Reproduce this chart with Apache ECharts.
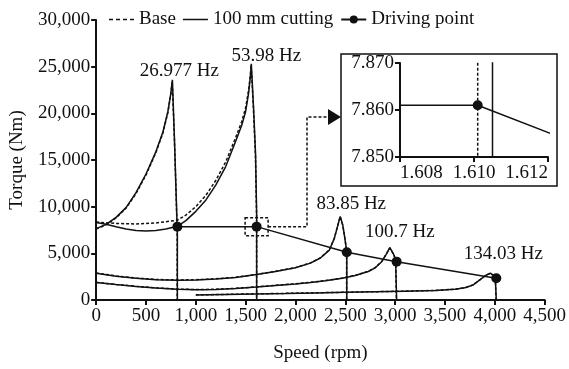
<!DOCTYPE html>
<html>
<head>
<meta charset="utf-8">
<script src="https://cdn.jsdelivr.net/npm/echarts@6/dist/echarts.min.js"></script>
<style>
html, body { margin: 0; padding: 0; background: #fff; }
#chart { width: 569px; height: 369px; }
</style>
</head>
<body>
<div id="chart"></div>
<script>
// [speed rpm, torque Nm]
const order1Base = [[0,7600],[100,8050],[200,8800],[300,9850],[400,11400],[500,13400],[600,15800],[670,17900],[720,20100],[750,22100],[763,23400],[785,17300],[805,10400],[813,7000],[813,0]];
const order1Cut = [[0,7650],[100,8100],[200,8850],[300,9900],[400,11500],[500,13500],[600,15900],[670,18000],[720,20200],[750,22200],[765,23600],[785,17500],[805,10500],[815,7000],[815,0]];
const order2Base = [[0,8350],[200,8200],[400,8150],[600,8250],[815,8550],[900,9100],[1000,10000],[1100,11200],[1200,12800],[1300,14800],[1400,17400],[1460,19100],[1500,20600],[1530,22500],[1547,24100],[1555,25200],[1578,20500],[1598,15500],[1610.1,9000],[1610.1,0]];
const order2Cut = [[0,8300],[100,8120],[200,7850],[300,7600],[400,7450],[500,7400],[600,7450],[700,7600],[815,7900],[900,8500],[1000,9500],[1100,10700],[1200,12300],[1300,14300],[1400,17000],[1460,18700],[1500,20200],[1530,22200],[1548,24000],[1557,25300],[1580,20500],[1600,15500],[1610.5,9000],[1610.5,0]];
const order3Base = [[0,2900],[200,2580],[400,2350],[600,2200],[815,2150],[1000,2170],[1200,2270],[1400,2440],[1610,2740],[1800,3070],[2000,3470],[2150,3970],[2250,4520],[2340,5380],[2390,6620],[2425,8020],[2448,8930],[2475,8000],[2490,7000],[2505,5900],[2513,5100],[2513,0]];
const order3Cut = [[0,2870],[200,2550],[400,2320],[600,2180],[815,2120],[1000,2150],[1200,2250],[1400,2420],[1610,2720],[1800,3050],[2000,3450],[2150,3950],[2250,4500],[2340,5350],[2390,6600],[2425,8000],[2449,8950],[2475,8000],[2490,7000],[2505,5900],[2515,5100],[2515,0]];
const order4Base = [[0,1890],[200,1670],[400,1470],[600,1300],[815,1170],[1000,1120],[1200,1150],[1400,1250],[1610,1400],[1800,1570],[2000,1740],[2150,1890],[2300,2080],[2470,2350],[2600,2640],[2730,3070],[2800,3470],[2865,4120],[2910,4900],[2946,5580],[2965,5480],[2985,4900],[3005,4300],[3013,4110],[3013,0]];
const order4Cut = [[0,1870],[200,1650],[400,1450],[600,1280],[815,1150],[1000,1100],[1200,1130],[1400,1230],[1610,1380],[1800,1550],[2000,1720],[2150,1870],[2300,2060],[2470,2330],[2600,2620],[2730,3050],[2800,3450],[2865,4100],[2910,4900],[2947,5600],[2965,5500],[2985,4900],[3005,4300],[3015,4110],[3015,0]];
const order5Base = [[1000,550],[1300,600],[1600,660],[1900,710],[2200,770],[2500,830],[2800,890],[3100,950],[3400,1020],[3600,1160],[3700,1310],[3780,1610],[3850,2150],[3910,2640],[3953,2860],[3985,2650],[4005,2400],[4013,2330],[4013,0]];
const order5Cut = [[1000,540],[1300,590],[1600,650],[1900,700],[2200,760],[2500,820],[2800,880],[3100,940],[3400,1010],[3600,1150],[3700,1300],[3780,1600],[3850,2150],[3910,2650],[3955,2870],[3985,2650],[4005,2400],[4015,2330],[4015,0]];
const drivingPoints = [[815,7861],[1610.1,7861],[2515,5110],[3015,4110],[4015,2330]];

const peakLabels = ['26.977 Hz', '53.98 Hz', '83.85 Hz', '100.7 Hz', '134.03 Hz'];
const xTicks = [0, 4500, 500];
const yTicks = [0, 30000, 5000];
const insetX = [1608, 1612, 2];
const insetY = [7850, 7870, 10];

const baseCurves = [order1Base, order2Base, order3Base, order4Base, order5Base];
const cutCurves = [order1Cut, order2Cut, order3Cut, order4Cut, order5Cut];

const FONT = 'Liberation Serif';
const INK = '#111';
const labelOffsets = [[7, -9], [15, -8], [11, -12], [10, -16], [13, -19]];

function thousands(v) {
  return String(v).replace(/\B(?=(\d{3})+(?!\d))/g, ',');
}

function axisBase(extra) {
  return Object.assign({
    type: 'value',
    splitLine: { show: false },
    axisLine: { show: true, lineStyle: { color: INK, width: 2 } },
    axisTick: { show: true, length: 5, lineStyle: { color: INK, width: 2 } },
    axisLabel: { color: INK, fontFamily: FONT, fontSize: 19 },
    nameTextStyle: { color: INK, fontFamily: FONT, fontSize: 19 }
  }, extra);
}

const chart = echarts.init(document.getElementById('chart'));

const series = [];
function addCurves(curves, name, dashed, xi) {
  curves.forEach(function (c) {
    series.push({
      name: name,
      type: 'line',
      xAxisIndex: xi, yAxisIndex: xi,
      data: c,
      symbol: 'none',
      showSymbol: false,
      clip: true,
      z: dashed ? 3 : 2,
      lineStyle: { color: INK, width: 1.5, type: dashed ? [3, 2] : 'solid' },
      itemStyle: { color: INK }
    });
  });
}
[0, 1].forEach(function (xi) {
  addCurves(baseCurves, 'Base', true, xi);
  addCurves(cutCurves, '100 mm cutting', false, xi);
  series.push({
    name: 'Driving point',
    type: 'line',
    xAxisIndex: xi, yAxisIndex: xi,
    data: drivingPoints,
    symbol: 'circle',
    symbolSize: 10,
    clip: true,
    z: 5,
    lineStyle: { color: INK, width: 1.5 },
    itemStyle: { color: INK }
  });
});

// legend icons: short dashes, plain line, line with dot
const dashIcon = 'path://M0,0h4v1.5h-4zM7,0h4v1.5h-4zM14,0h4v1.5h-4zM21,0h4v1.5h-4z';
const lineIcon = 'path://M0,0h25v1.5h-25z';

chart.setOption({
  animation: false,
  backgroundColor: '#fff',
  legend: {
    data: [
      { name: 'Base', icon: dashIcon },
      { name: '100 mm cutting', icon: lineIcon },
      { name: 'Driving point' }
    ],
    left: 104, top: 5,
    itemWidth: 25, itemHeight: 10, itemGap: 7,
    symbolKeepAspect: true,
    textStyle: { color: INK, fontFamily: FONT, fontSize: 19 }
  },
  grid: [
    { left: 95, right: 16, top: 20, bottom: 69 },
    { left: 400, right: 21, top: 63, bottom: 212 }
  ],
  xAxis: [
    axisBase({
      gridIndex: 0, min: xTicks[0], max: xTicks[1], interval: xTicks[2],
      name: 'Speed (rpm)', nameLocation: 'middle', nameGap: 44,
      axisLabel: { color: INK, fontFamily: FONT, fontSize: 19, margin: 7, formatter: thousands }
    }),
    axisBase({
      gridIndex: 1, min: insetX[0], max: insetX[1], interval: insetX[2],
      axisLabel: { color: INK, fontFamily: FONT, fontSize: 19, margin: 7,
        alignMinLabel: 'left', alignMaxLabel: 'right',
        formatter: function (v) { return (v / 1000).toFixed(3); } }
    })
  ],
  yAxis: [
    axisBase({
      gridIndex: 0, min: yTicks[0], max: yTicks[1], interval: yTicks[2],
      name: 'Torque (Nm)', nameLocation: 'middle', nameGap: 66,
      axisLabel: { color: INK, fontFamily: FONT, fontSize: 19, margin: 6, formatter: thousands }
    }),
    axisBase({
      gridIndex: 1, min: insetY[0], max: insetY[1], interval: insetY[2],
      axisLabel: { color: INK, fontFamily: FONT, fontSize: 19, margin: 6,
        formatter: function (v) { return (v / 1000).toFixed(3); } }
    })
  ],
  series: series
});

// annotations: peak frequency labels, zoom box, connector and inset frame
const graphics = [];
cutCurves.forEach(function (c, i) {
  let peak = c[0];
  c.forEach(function (p) { if (p[1] > peak[1]) peak = p; });
  const px = chart.convertToPixel({ xAxisIndex: 0, yAxisIndex: 0 }, peak);
  graphics.push({
    type: 'text',
    x: px[0] + labelOffsets[i][0], y: px[1] + labelOffsets[i][1],
    style: { text: peakLabels[i], font: '19px "' + FONT + '"', fill: INK, align: 'center', verticalAlign: 'middle' },
    z: 10
  });
});
const dp = chart.convertToPixel({ xAxisIndex: 0, yAxisIndex: 0 }, drivingPoints[1]);
const dash = { stroke: INK, lineWidth: 1.5, lineDash: [3, 2], fill: null };
graphics.push({ type: 'rect', shape: { x: dp[0] - 11.5, y: dp[1] - 9, width: 23, height: 18 }, style: dash, z: 10 });
graphics.push({ type: 'polyline', shape: { points: [[dp[0] + 11.5, dp[1]], [307, dp[1]], [307, 117], [330, 117]] }, style: dash, z: 10 });
graphics.push({ type: 'polygon', shape: { points: [[328, 109], [341, 117], [328, 125]] }, style: { fill: INK }, z: 10 });
graphics.push({ type: 'rect', shape: { x: 341, y: 54, width: 216, height: 132 }, style: { stroke: INK, lineWidth: 1.5, fill: null }, z: 10 });
chart.setOption({ graphic: graphics });
</script>
</body>
</html>
